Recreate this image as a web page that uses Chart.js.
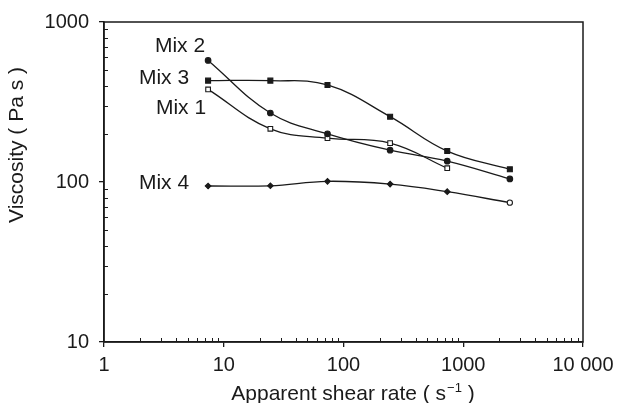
<!DOCTYPE html>
<html>
<head>
<meta charset="utf-8">
<script src="https://cdn.jsdelivr.net/npm/chart.js@4/dist/chart.umd.min.js"></script>
<style>
  html, body { margin: 0; padding: 0; background: #fff; }
  #wrap { width: 621px; height: 403px; }
</style>
</head>
<body>
<div id="wrap"><canvas id="c" width="621" height="403"></canvas></div>
<script>
// ---- data ----
const shearRates = [7.4, 24.5, 73.5, 245, 735, 2450];
const mix1 = [379, 215, 188, 175, 122];
const mix2 = [575, 270, 200, 158, 135, 104.5];
const mix3 = [430, 430, 404, 256, 156, 120];
const mix4 = [94.4, 94.7, 101, 97, 87, 74.3];
const seriesNames = ['Mix 1', 'Mix 2', 'Mix 3', 'Mix 4'];
const xTickValues = [1, 10, 100, 1000, 10000];
const xTickLabels = ['1', '10', '100', '1000', '10 000'];
const yTickValues = [10, 100, 1000];
const yTickLabels = ['10', '100', '1000'];
const xTitle = 'Apparent shear rate ( s';
const xTitleSup = '\u22121';
const xTitleEnd = ' )';
const yTitle = 'Viscosity ( Pa s )';

const FONT = '"Liberation Sans", Arial, Helvetica, sans-serif';
const INK = '#1a1a1a';

function pts(vals) { return vals.map((v, i) => ({ x: shearRates[i], y: v })); }

const common = {
  borderColor: INK, borderWidth: 1.3, tension: 0.4, fill: false,
  pointBorderColor: INK, pointBorderWidth: 1.1
};

const datasets = [
  Object.assign({}, common, {
    label: seriesNames[1], data: pts(mix2),
    pointStyle: 'circle', pointRadius: 2.8, pointBackgroundColor: INK,
    labelDx: -3, labelDy: -14
  }),
  Object.assign({}, common, {
    label: seriesNames[2], data: pts(mix3),
    pointStyle: 'rect', pointRadius: 3.5, pointBackgroundColor: INK,
    labelDx: -19, labelDy: -2
  }),
  Object.assign({}, common, {
    label: seriesNames[0], data: pts(mix1),
    pointStyle: 'rect', pointRadius: 3.3, pointBackgroundColor: '#fff',
    labelDx: -2, labelDy: 19
  }),
  Object.assign({}, common, {
    label: seriesNames[3], data: pts(mix4),
    pointStyle: ['rectRot','rectRot','rectRot','rectRot','rectRot','circle'],
    pointRadius: [2.8,2.8,2.8,2.8,2.8,2.6],
    pointBackgroundColor: [INK,INK,INK,INK,INK,'#fff'],
    labelDx: -19, labelDy: -3
  })
];

const decor = {
  id: 'decor',
  afterDraw(chart) {
    const ctx = chart.ctx, a = chart.chartArea;
    const xs = chart.scales.x, ys = chart.scales.y;
    ctx.save();
    // frame
    ctx.strokeStyle = INK; ctx.lineWidth = 1.5;
    ctx.strokeRect(a.left, a.top, a.right - a.left, a.bottom - a.top);
    // minor ticks (inward)
    ctx.lineWidth = 1;
    ctx.beginPath();
    for (let d = 0; d < 4; d++) {
      for (let k = 2; k <= 9; k++) {
        const px = Math.round(xs.getPixelForValue(k * Math.pow(10, d))) + 0.5;
        ctx.moveTo(px, a.bottom); ctx.lineTo(px, a.bottom - 4);
      }
    }
    for (let d = 1; d < 3; d++) {
      for (let k = 2; k <= 9; k++) {
        const py = Math.round(ys.getPixelForValue(k * Math.pow(10, d))) + 0.5;
        ctx.moveTo(a.left, py); ctx.lineTo(a.left + 4, py);
      }
    }
    ctx.stroke();
    // series labels
    ctx.fillStyle = INK;
    ctx.font = '21px ' + FONT;
    ctx.textAlign = 'right'; ctx.textBaseline = 'middle';
    chart.data.datasets.forEach((ds, i) => {
      const p = chart.getDatasetMeta(i).data[0];
      ctx.fillText(ds.label, p.x + ds.labelDx, p.y + ds.labelDy);
    });
    // x title with superscript
    ctx.textBaseline = 'alphabetic'; ctx.textAlign = 'left';
    ctx.font = '21px ' + FONT;
    const w1 = ctx.measureText(xTitle).width;
    ctx.font = '13px ' + FONT;
    const w2 = ctx.measureText(xTitleSup).width;
    ctx.font = '21px ' + FONT;
    const w3 = ctx.measureText(xTitleEnd).width;
    const cx = (a.left + a.right) / 2 + 9;
    let x0 = cx - (w1 + w2 + w3) / 2;
    const base = 400;
    ctx.fillText(xTitle, x0, base);
    ctx.font = '13px ' + FONT;
    ctx.fillText(xTitleSup, x0 + w1 + 1, base - 8);
    ctx.font = '21px ' + FONT;
    ctx.fillText(xTitleEnd, x0 + w1 + w2 + 1, base);
    // y title
    ctx.translate(17, 145);
    ctx.rotate(-Math.PI / 2);
    ctx.textAlign = 'center'; ctx.textBaseline = 'middle';
    ctx.fillText(yTitle, 0, 0);
    ctx.restore();
  }
};

new Chart(document.getElementById('c'), {
  type: 'line',
  data: { datasets },
  options: {
    responsive: false, animation: false, devicePixelRatio: 1,
    layout: { padding: { top: 22, right: 38, left: 0, bottom: 0 } },
    plugins: { legend: { display: false }, tooltip: { enabled: false } },
    scales: {
      x: {
        type: 'logarithmic', min: 1, max: 10000,
        afterBuildTicks: s => { s.ticks = xTickValues.map(v => ({ value: v })); },
        afterFit: s => { s.height = 61; },
        ticks: {
          autoSkip: false, maxRotation: 0, color: INK, padding: 6,
          font: { family: FONT, size: 20 },
          callback: v => xTickLabels[xTickValues.indexOf(v)]
        },
        grid: { drawOnChartArea: false, tickLength: 5, color: INK, lineWidth: 1.3 },
        border: { color: INK, width: 1.5 }
      },
      y: {
        type: 'logarithmic', min: 10, max: 1000,
        afterBuildTicks: s => { s.ticks = yTickValues.map(v => ({ value: v })); },
        afterFit: s => { s.width = 104; },
        ticks: {
          autoSkip: false, color: INK, padding: 10,
          font: { family: FONT, size: 20 },
          callback: v => yTickLabels[yTickValues.indexOf(v)]
        },
        grid: { drawOnChartArea: false, tickLength: 5, color: INK, lineWidth: 1.3 },
        border: { color: INK, width: 1.5 }
      }
    }
  },
  plugins: [decor]
});
</script>
</body>
</html>
